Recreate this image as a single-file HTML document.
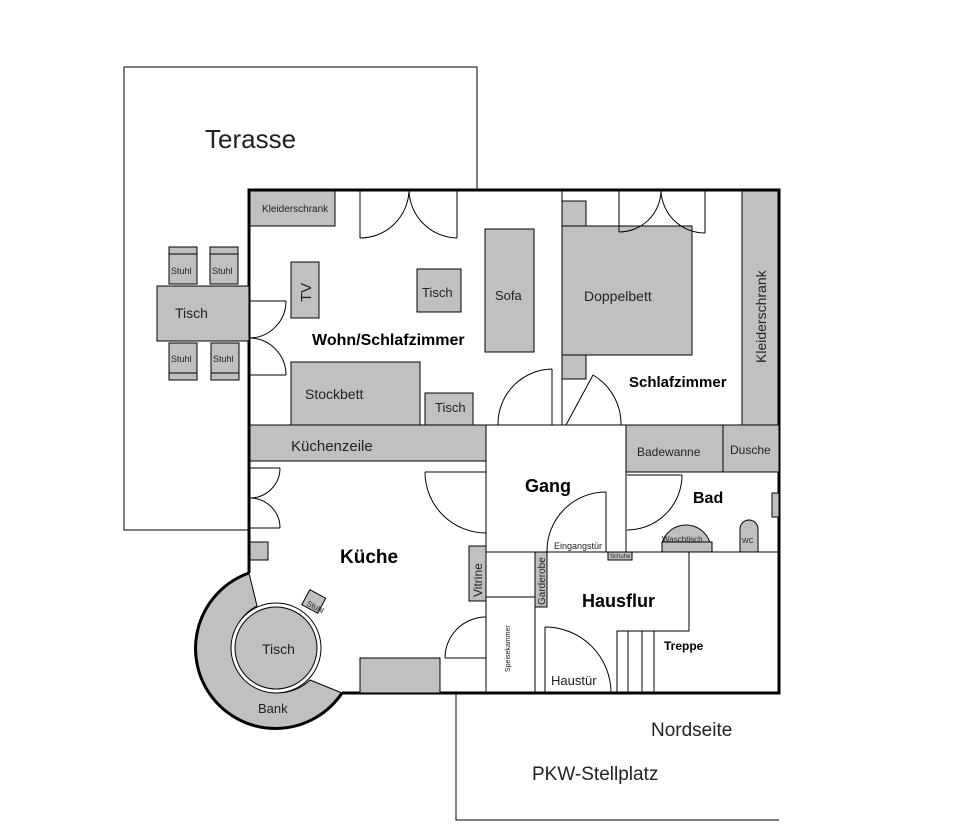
<!DOCTYPE html>
<html><head><meta charset="utf-8"><style>
html,body{margin:0;padding:0;background:#fff;}
svg{display:block;font-family:"Liberation Sans",Arial,sans-serif;}
.g{fill:#c0c0c0;stroke:#000;stroke-width:1;}
.l{fill:none;stroke:#000;stroke-width:1;}
.w{fill:none;stroke:#000;stroke-width:3;}
.t{fill:#222;}
.b{font-weight:bold;fill:#000;}
</style></head><body>
<svg width="978" height="828" viewBox="0 0 978 828">
<polyline class="l" points="477,190 477,67 124,67 124,530 249,530"/>
<polyline class="l" points="456,693 456,820 779,820"/>

<!-- Bank sector -->
<path class="g" d="M249,573 A80,80 0 1 0 342,693 L310,680 A46,46 0 1 1 257,606 Z"/>
<circle cx="276" cy="648" r="45" fill="#fff" stroke="#000"/>
<circle cx="276" cy="648" r="41" class="g"/>

<polyline class="w" points="249,573 249,190 779,190 779,693 342,693"/>
<path class="w" d="M249,573 A80,80 0 1 0 342,693"/>

<rect class="g" x="250" y="191" width="85" height="35"/>
<text x="262" y="212" font-size="10" class="t">Kleiderschrank</text>
<rect class="g" x="291" y="262" width="28" height="56"/>
<text x="0" y="0" font-size="15" class="t" transform="translate(311,302) rotate(-90)">TV</text>
<rect class="g" x="417" y="269" width="44" height="43"/>
<text x="422" y="297" font-size="13" class="t">Tisch</text>
<rect class="g" x="485" y="229" width="49" height="123"/>
<text x="495" y="300" font-size="13" class="t">Sofa</text>
<rect class="g" x="291" y="362" width="129" height="63"/>
<text x="305" y="399" font-size="14" class="t">Stockbett</text>
<rect class="g" x="425" y="393" width="48" height="32"/>
<text x="435" y="412" font-size="13" class="t">Tisch</text>
<text x="312" y="345" font-size="16" class="b">Wohn/Schlafzimmer</text>

<polyline class="l" points="360,191 360,238"/>
<path class="l" d="M360,238 A49,49 0 0 0 409,191"/>
<polyline class="l" points="457,191 457,238"/>
<path class="l" d="M457,238 A49,49 0 0 1 409,191"/>
<line class="l" x1="250" y1="301" x2="286" y2="301"/>
<path class="l" d="M286,301 A37,37 0 0 1 250,338"/>
<line class="l" x1="250" y1="375" x2="286" y2="375"/>
<path class="l" d="M286,375 A37,37 0 0 0 250,338"/>
<rect class="g" x="157" y="286" width="92" height="55"/>
<text x="175" y="318" font-size="14" class="t">Tisch</text>
<rect class="g" x="169" y="247" width="28" height="37"/><line class="l" x1="169" y1="254" x2="197" y2="254"/>
<rect class="g" x="210" y="247" width="28" height="37"/><line class="l" x1="210" y1="254" x2="238" y2="254"/>
<rect class="g" x="169" y="343" width="28" height="37"/><line class="l" x1="169" y1="373" x2="197" y2="373"/>
<rect class="g" x="211" y="343" width="28" height="37"/><line class="l" x1="211" y1="373" x2="239" y2="373"/>
<text x="171" y="274" font-size="9" class="t">Stuhl</text>
<text x="212" y="274" font-size="9" class="t">Stuhl</text>
<text x="171" y="362" font-size="9" class="t">Stuhl</text>
<text x="213" y="362" font-size="9" class="t">Stuhl</text>
<text x="205" y="148" font-size="26" class="t">Terasse</text>

<line class="l" x1="562" y1="190" x2="562" y2="425"/>
<line class="l" x1="552" y1="369" x2="552" y2="425"/>
<path class="l" d="M552,369 A55,55 0 0 0 498,425"/>
<rect class="g" x="562" y="201" width="24" height="25"/>
<rect class="g" x="562" y="226" width="130" height="129"/>
<text x="584" y="301" font-size="14" class="t">Doppelbett</text>
<rect class="g" x="562" y="355" width="24" height="24"/>
<polyline class="l" points="619,191 619,232"/>
<path class="l" d="M619,232 A42,42 0 0 0 661,191"/>
<polyline class="l" points="705,191 705,233"/>
<path class="l" d="M705,233 A44,44 0 0 1 661,191"/>
<rect class="g" x="742" y="191" width="36" height="234"/>
<text x="0" y="0" font-size="14" class="t" transform="translate(766,363) rotate(-90)">Kleiderschrank</text>
<text x="629" y="387" font-size="15" class="b">Schlafzimmer</text>
<line class="l" x1="566" y1="425" x2="593" y2="375"/>
<path class="l" d="M593,375 A57,57 0 0 1 621,425"/>

<line class="l" x1="249" y1="425" x2="779" y2="425"/>
<rect class="g" x="250" y="425" width="236" height="36"/>
<text x="291" y="451" font-size="15" class="t">Küchenzeile</text>

<line class="l" x1="250" y1="468" x2="280" y2="468"/>
<path class="l" d="M280,468 A30,30 0 0 1 250,498"/>
<line class="l" x1="250" y1="528" x2="280" y2="528"/>
<path class="l" d="M280,528 A30,30 0 0 0 250,498"/>
<rect class="g" x="250" y="542" width="18" height="18"/>
<line class="l" x1="425" y1="472" x2="486" y2="472"/>
<path class="l" d="M425,472 A61,61 0 0 0 486,533"/>
<text x="340" y="563" font-size="19" class="b">Küche</text>
<rect class="g" x="469" y="546" width="17" height="55"/>
<text x="0" y="0" font-size="12" class="t" transform="translate(482,597) rotate(-90)">Vitrine</text>
<rect class="g" x="305" y="593" width="18" height="17" transform="rotate(28 314 601)"/>
<text x="0" y="0" font-size="8" class="t" transform="translate(306,605) rotate(28)">Stuhl</text>
<text x="262" y="654" font-size="14" class="t">Tisch</text>
<text x="258" y="713" font-size="13" class="t">Bank</text>
<rect class="g" x="360" y="658" width="80" height="35"/>
<line class="l" x1="445" y1="658" x2="486" y2="658"/>
<path class="l" d="M445,658 A41,41 0 0 1 486,617"/>

<line class="l" x1="486" y1="425" x2="486" y2="693"/>
<line class="l" x1="626" y1="425" x2="626" y2="552"/>
<text x="525" y="492" font-size="18" class="b">Gang</text>
<line class="l" x1="606" y1="492" x2="606" y2="552"/>
<path class="l" d="M606,492 A59,59 0 0 0 547,552"/>
<text x="554" y="549" font-size="9" class="t">Eingangstür</text>

<rect class="g" x="626" y="425" width="97" height="47"/>
<rect class="g" x="723" y="425" width="56" height="47"/>
<text x="637" y="456" font-size="12" class="t">Badewanne</text>
<text x="730" y="454" font-size="12" class="t">Dusche</text>
<text x="693" y="503" font-size="16" class="b">Bad</text>
<line class="l" x1="627" y1="475" x2="682" y2="475"/>
<path class="l" d="M682,475 A55,55 0 0 1 627,530"/>
<rect class="g" x="772" y="493" width="7" height="24"/>
<path class="g" d="M662,543 A25,25 0 0 1 710,543 Z"/>
<rect class="g" x="662" y="542" width="50" height="10"/>
<text x="662" y="542" font-size="8" class="t">Waschtisch</text>
<path class="g" d="M740,552 L740,529 A9,9 0 0 1 758,529 L758,552 Z"/>
<text x="742" y="543" font-size="7" class="t">WC</text>

<line class="l" x1="486" y1="552" x2="779" y2="552"/>
<rect class="g" x="608" y="552" width="24" height="8"/>
<text x="610" y="558" font-size="6" class="t">Schuhe</text>
<rect class="g" x="535" y="552" width="12" height="55"/>
<text x="0" y="0" font-size="10" class="t" transform="translate(545,605) rotate(-90)">Garderobe</text>
<line class="l" x1="535" y1="552" x2="535" y2="693"/>
<line class="l" x1="486" y1="597" x2="535" y2="597"/>
<text x="0" y="0" font-size="7" class="t" transform="translate(510,672) rotate(-90)">Speisekammer</text>
<text x="582" y="607" font-size="18" class="b">Hausflur</text>
<polyline class="l" points="689,552 689,631 617,631 617,693"/>
<line class="l" x1="628" y1="631" x2="628" y2="693"/>
<line class="l" x1="642" y1="631" x2="642" y2="693"/>
<line class="l" x1="654" y1="631" x2="654" y2="693"/>
<text x="664" y="650" font-size="12" class="b">Treppe</text>
<line class="l" x1="545" y1="627" x2="545" y2="693"/>
<path class="l" d="M545,627 A66,66 0 0 1 611,693"/>
<text x="551" y="685" font-size="13" class="t">Haustür</text>

<text x="651" y="736" font-size="19" class="t">Nordseite</text>
<text x="532" y="780" font-size="19" class="t">PKW-Stellplatz</text>
</svg>
</body></html>
